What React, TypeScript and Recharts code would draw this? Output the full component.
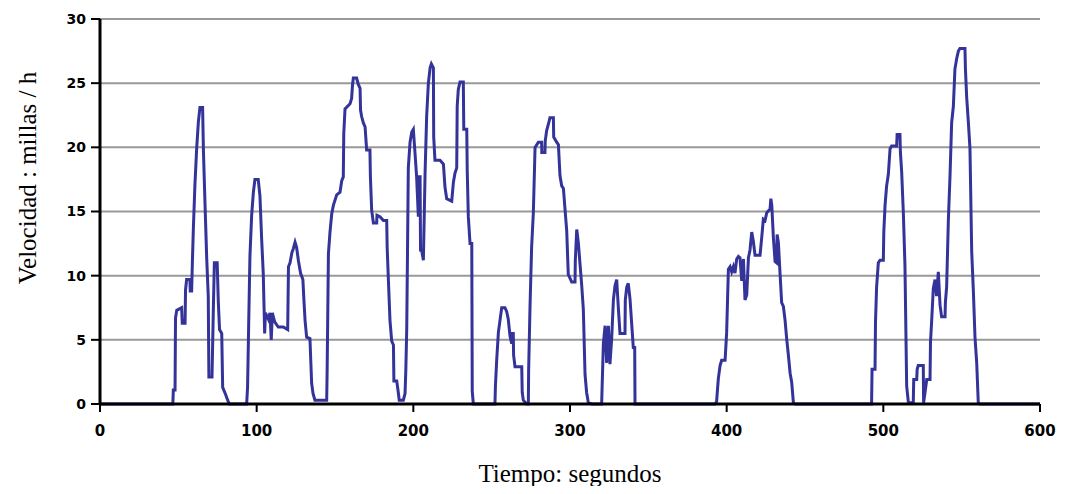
import { LineChart, Line, XAxis, YAxis, CartesianGrid, Label } from 'recharts';

// speed trace: [seconds, mph]
const speedTrace: [number, number][] = [
  [0, 0], [46.5, 0], [46.8, 1.1], [47.9, 1.1], [48.2, 6.7], [49, 7.3], [52.1, 7.5], [52.5, 6.3], [54.3, 6.3],
  [54.6, 8.9], [55.3, 9.7], [57.4, 9.7], [57.6, 8.8], [58.5, 8.8], [59, 11.2], [59.6, 13.7], [60.6, 17.1],
  [61.7, 19.9], [62.8, 22], [63.8, 23.1], [65.5, 23.1], [66, 19.8], [67, 15.7], [68.1, 11.4], [69.1, 8.4],
  [69.5, 2.1], [71.5, 2.1], [72.3, 7.1], [73, 11], [74.8, 11], [75.5, 8], [76.3, 5.8], [77.7, 5.5], [78.3, 1.3],
  [80, 0.8], [81.5, 0.3], [82.5, 0],
  [93.6, 0], [94.2, 1.3], [94.9, 6.2], [95.7, 11.5], [96.8, 14.7], [97.9, 16.5], [98.9, 17.5], [101, 17.5],
  [102.1, 16.2], [103.2, 12.8], [104.2, 10.2], [105.1, 5.5], [105.6, 7.1], [107.5, 6.6], [108.5, 7.1], [109.3, 5.0],
  [110, 7.1], [111.5, 6.4], [113.8, 6], [117, 6], [119.8, 5.8], [120.3, 10.7], [121.3, 11], [122.5, 11.8],
  [123.4, 12.1], [124.5, 12.6], [125.5, 12.2], [126.6, 11.2], [128, 10.2], [129.5, 9.7], [130.2, 8], [130.9, 6.5],
  [131.9, 5.2], [134, 5.1], [135.1, 1.6], [136, 0.8], [137.2, 0.3], [144.7, 0.3],
  [145, 2.7], [145.8, 11.7], [146.8, 13.4], [147.9, 14.8], [149, 15.5], [151.1, 16.3], [153.2, 16.5], [154.3, 17.4],
  [155.3, 17.7], [155.6, 21.1], [156.4, 23], [159.6, 23.4], [160.6, 23.8], [161.2, 24.9], [161.7, 25.4],
  [163.8, 25.4], [164.9, 24.9], [166, 24.6], [166.3, 22.9], [167, 22.4], [168.1, 21.9], [169.2, 21.6],
  [170.2, 19.8], [172.3, 19.8], [172.6, 17.7], [173.4, 15.1], [174.5, 14.1], [176.6, 14.1], [176.8, 14.7],
  [178.7, 14.6], [180.9, 14.3], [183, 14.3], [183.3, 12.2], [184.1, 9.6], [185.1, 6.5], [186.2, 4.9], [187.3, 4.6],
  [187.6, 1.8], [189.4, 1.8], [190.4, 0.9], [191, 0.3], [193.6, 0.3], [194.7, 0.8], [195.2, 2.6], [195.8, 5.9],
  [196.8, 18.4], [197.9, 20.4], [199, 21.2], [200, 21.4], [201.1, 19.5], [202.1, 17.7], [203.2, 14.6],
  [203.5, 17.7], [204.3, 17.7], [204.6, 12], [205.3, 12], [206.4, 11.2], [207.5, 18], [208.5, 22.4], [209.6, 25],
  [210.7, 26.2], [211.5, 26.5], [212.8, 26.2], [213, 20.8], [213.8, 19], [217, 19], [219.2, 18.7], [220.2, 16.9],
  [221.3, 16], [224.5, 15.8], [225.6, 17.3], [226.6, 18], [227.7, 18.4], [228, 23.2], [228.7, 24.5], [229.8, 25.1],
  [231.9, 25.1], [232.2, 21.4], [234.1, 21.4], [234.4, 18.2], [235.1, 14.6], [236.2, 12.5], [237.3, 12.5],
  [237.6, 1], [238.3, 0],
  [252.1, 0], [252.4, 1.4], [253.2, 3.4], [254.3, 5.6], [255.3, 6.5], [256.4, 7.5], [258.5, 7.5], [259.6, 7.2],
  [260.6, 6.6], [261.7, 5.3], [262.8, 4.7], [263, 5.5], [263.8, 5.5], [264, 3.8], [264.9, 2.9], [269.2, 2.9],
  [269.5, 0.9], [270.2, 0.3], [272.3, 0], [273.4, 0], [273.6, 2.6], [274.5, 7.7], [275.5, 12.2], [276.6, 14.9],
  [277.7, 20], [279.8, 20.4], [281.9, 20.4], [282, 19.6], [284, 19.6], [284.2, 20.5], [285.1, 21.3], [286.2, 21.8],
  [287.2, 22.3], [289.4, 22.3], [289.6, 20.8], [291.5, 20.4], [292.6, 20.2], [293.6, 17.8], [294.7, 17],
  [295.8, 16.8], [296.8, 15.2], [297.9, 13.5], [298.9, 10.1], [301.1, 9.5], [303.2, 9.5], [303.4, 11.2],
  [304.3, 13.6], [305.3, 12.6], [306.4, 10.9], [307.5, 9.2], [308.5, 7.4], [309.6, 2.3], [310.6, 0.9],
  [311.7, 0.1], [313.8, 0],
  [320.2, 0], [320.5, 1.3], [321.3, 4.7], [322.4, 6.1], [323.4, 3.2], [324.5, 6.1], [325.5, 3.1], [326.6, 5.1],
  [327.7, 8.1], [328.7, 9.2], [329.8, 9.7], [330.9, 7.4], [331.9, 5.5], [335.1, 5.5], [335.3, 8.1], [336.2, 9.1],
  [337.2, 9.4], [338.3, 8.2], [339.4, 6.2], [340.4, 4.4], [341.3, 4.4], [341.5, 0],
  [392.6, 0], [393.6, 0.2], [394, 0.9], [394.7, 2], [395.8, 3], [396.8, 3.4], [399, 3.4], [400, 5.6],
  [401.1, 10.5], [402.2, 10.7], [403.2, 10.3], [404.3, 10.7], [405.3, 10.2], [406.4, 11.3], [407.5, 11.5],
  [408.5, 11.4], [409.6, 9.6], [410.7, 11.3], [411.7, 8.1], [412.8, 8.5], [413.9, 11.4], [414.9, 12], [416, 13.4],
  [417, 12.7], [418.1, 11.6], [421.3, 11.6], [422.4, 13], [423.4, 14.4], [424.5, 14.3], [425.6, 14.9],
  [427.7, 15.2], [428.2, 16], [428.8, 15.5], [429.8, 13], [430.9, 11.1], [431.9, 11], [432.2, 13.2], [433, 12.6],
  [434.1, 10.1], [435.1, 7.9], [436.2, 7.6], [437.3, 6.5], [438.3, 5.1], [439.4, 3.8], [440.5, 2.4], [441.5, 1.7],
  [442.6, 0.1], [443.6, 0],
  [492.5, 0], [492.8, 2.7], [494.7, 2.7], [495, 6.4], [495.7, 9.1], [496.8, 11], [497.9, 11.2], [500, 11.2],
  [500.3, 13.4], [501.1, 15.5], [502.1, 17], [503.2, 17.9], [504.3, 19.9], [505.3, 20.1], [508.5, 20.1],
  [508.8, 21], [510.6, 21], [510.9, 19.6], [511.7, 18.1], [512.8, 14.8], [513.8, 10.8], [514.9, 1.4], [516, 0.1],
  [519.1, 0.1], [519.4, 1.9], [521.3, 1.9], [521.6, 2.7], [522.3, 3], [525.5, 3], [525.7, 0.1], [526.6, 0.9],
  [527.7, 1.9], [529.8, 1.9], [530.1, 4.8], [530.9, 6.6], [531.9, 9], [533, 9.7], [534, 8.4], [535.1, 10.3],
  [536.2, 7.7], [537.2, 6.8], [539.4, 6.8], [539.6, 7.9], [540.4, 9.1], [541.5, 14.3], [542.6, 17.9],
  [543.6, 21.9], [544.7, 23.2], [545.7, 26.1], [546.8, 26.9], [547.9, 27.5], [548.9, 27.7], [552.1, 27.7],
  [552.4, 26.1], [553.2, 23.9], [554.3, 21.9], [555.3, 19.9], [556.4, 11.9], [557.5, 8.7], [558.5, 5.2],
  [559.6, 3.2], [560.6, 0.1], [561.7, 0], [600, 0],
];

const xTicks = [0, 100, 200, 300, 400, 500, 600];
const yTicks = [0, 5, 10, 15, 20, 25, 30];

const data = speedTrace.map(([t, v]) => ({ t, v }));

const tickStyle = { fontFamily: 'DejaVu Sans', fontWeight: 'bold', fontSize: 14, fill: '#000' };
const titleFont = "'Liberation Serif', 'Times New Roman', serif";

const App = () => {
  return (
    <LineChart width={1051} height={478} data={data} margin={{ top: 11, right: 19, left: 0, bottom: 0 }}>
      <CartesianGrid vertical={false} stroke="#999999" strokeWidth={2} />
      <XAxis
        dataKey="t"
        type="number"
        domain={[0, 600]}
        ticks={xTicks}
        height={82}
        axisLine={{ stroke: '#000', strokeWidth: 3 }}
        tickLine={{ stroke: '#000', strokeWidth: 2 }}
        tickSize={8}
        tickMargin={13}
        tick={{ ...tickStyle, fontSize: 15 }}
      >
        <Label
          value="Tiempo: segundos"
          position="insideBottom"
          offset={4}
          style={{ fontFamily: titleFont, fontSize: 25, fill: '#000' }}
        />
      </XAxis>
      <YAxis
        type="number"
        domain={[0, 30]}
        ticks={yTicks}
        width={92}
        axisLine={{ stroke: '#000', strokeWidth: 3 }}
        tickLine={{ stroke: '#000', strokeWidth: 2 }}
        tickSize={9}
        tickMargin={5}
        tick={tickStyle}
      >
        <Label
          content={() => (
            <text
              x={28}
              y={170}
              transform="rotate(-90 28 170)"
              textAnchor="middle"
              style={{ fontFamily: titleFont, fontSize: 25, fill: '#000' }}
            >
              Velocidad : millas / h
            </text>
          )}
        />
      </YAxis>
      <Line
        type="linear"
        dataKey="v"
        stroke="#333399"
        strokeWidth={3}
        dot={false}
        activeDot={false}
        isAnimationActive={false}
      />
    </LineChart>
  );
};

export default App;
